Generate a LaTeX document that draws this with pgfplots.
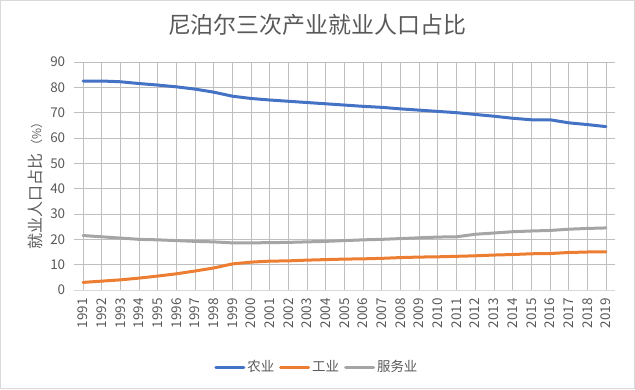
\documentclass[border=0pt]{standalone}
\usepackage{pgfplots}
\pgfplotsset{compat=1.18}
\usepackage{fontspec}
\setmainfont{Noto Sans CJK SC}
\definecolor{agri}{HTML}{4472C4}
\definecolor{indu}{HTML}{ED7D31}
\definecolor{serv}{HTML}{A5A5A5}
\definecolor{txt}{HTML}{595959}
\definecolor{grid}{HTML}{D9D9D9}
\begin{document}
\begin{tikzpicture}[x=1bp,y=1bp]
\draw[grid,line width=0.75bp] (0.5,0.5) rectangle (634.5,388.5);
\useasboundingbox (0,0) rectangle (635,389);
\begin{axis}[
  at={(73.7bp,99bp)}, anchor=south west,
  scale only axis, width=541.6bp, height=228bp,
  xmin=1990.5, xmax=2019.5, ymin=0, ymax=90,
  xtick={1991,...,2019},
  ytick={0,10,...,90},
  /pgf/number format/assume math mode=true,
  xticklabel={\pgfmathprintnumber[1000 sep=]{\tick}},
  xticklabel style={rotate=90, anchor=east, font=\fontsize{13.5}{14}\selectfont, text=txt},
  yticklabel style={font=\fontsize{13.5}{14}\selectfont, text=txt},
  xticklabel shift=5bp, yticklabel shift=5bp,
  ymajorgrids, grid style={grid, line width=0.75bp},
  axis lines*=left,
  y axis line style={draw=none},
  x axis line style={grid, line width=0.75bp, -},
  major tick length=0pt,
  xtick style={draw=none}, ytick style={draw=none},
  legend columns=3,
  legend style={at={(0.449,-0.338)}, anchor=center, draw=none, font=\fontsize{13.5}{14}\selectfont, text=txt,
    /tikz/every even column/.append style={column sep=3bp}},
  legend image code/.code={\draw[#1, line width=3bp] (0bp,0bp) -- (28bp,0bp);},
  every axis plot/.append style={line width=3bp, line join=round, line cap=round, mark=none},
]
\addplot[agri] coordinates {
(1991,82.5)(1992,82.5)(1993,82.2)(1994,81.5)(1995,80.9)(1996,80.2)(1997,79.3)(1998,78.1)(1999,76.5)(2000,75.6)
(2001,75.0)(2002,74.5)(2003,74.0)(2004,73.5)(2005,73.0)(2006,72.5)(2007,72.1)(2008,71.5)(2009,71.0)(2010,70.5)
(2011,70.0)(2012,69.3)(2013,68.6)(2014,67.8)(2015,67.2)(2016,67.2)(2017,66.0)(2018,65.3)(2019,64.5)};
\addlegendentry{农业}
\addplot[indu] coordinates {
(1991,3.0)(1992,3.5)(1993,4.0)(1994,4.7)(1995,5.5)(1996,6.4)(1997,7.5)(1998,8.7)(1999,10.3)(2000,11.0)
(2001,11.4)(2002,11.5)(2003,11.8)(2004,12.0)(2005,12.2)(2006,12.3)(2007,12.5)(2008,12.8)(2009,13.0)(2010,13.1)
(2011,13.3)(2012,13.5)(2013,13.8)(2014,14.0)(2015,14.3)(2016,14.4)(2017,14.8)(2018,15.0)(2019,15.1)};
\addlegendentry{工业}
\addplot[serv] coordinates {
(1991,21.5)(1992,21.0)(1993,20.5)(1994,20.0)(1995,19.8)(1996,19.5)(1997,19.2)(1998,19.0)(1999,18.6)(2000,18.6)
(2001,18.7)(2002,18.8)(2003,19.0)(2004,19.2)(2005,19.5)(2006,19.8)(2007,20.0)(2008,20.3)(2009,20.6)(2010,20.9)
(2011,21.0)(2012,22.0)(2013,22.5)(2014,23.0)(2015,23.3)(2016,23.5)(2017,24.0)(2018,24.3)(2019,24.5)};
\addlegendentry{服务业}
\end{axis}
\node[text=txt, font=\fontsize{23}{24}\selectfont] at (317,364) {尼泊尔三次产业就业人口占比};
\node[text=txt, rotate=90, font=\fontsize{16}{17}\selectfont] at (35,206) {就业人口占比\,{\fontsize{12}{13}\selectfont（\%）}};
\end{tikzpicture}
\end{document}
